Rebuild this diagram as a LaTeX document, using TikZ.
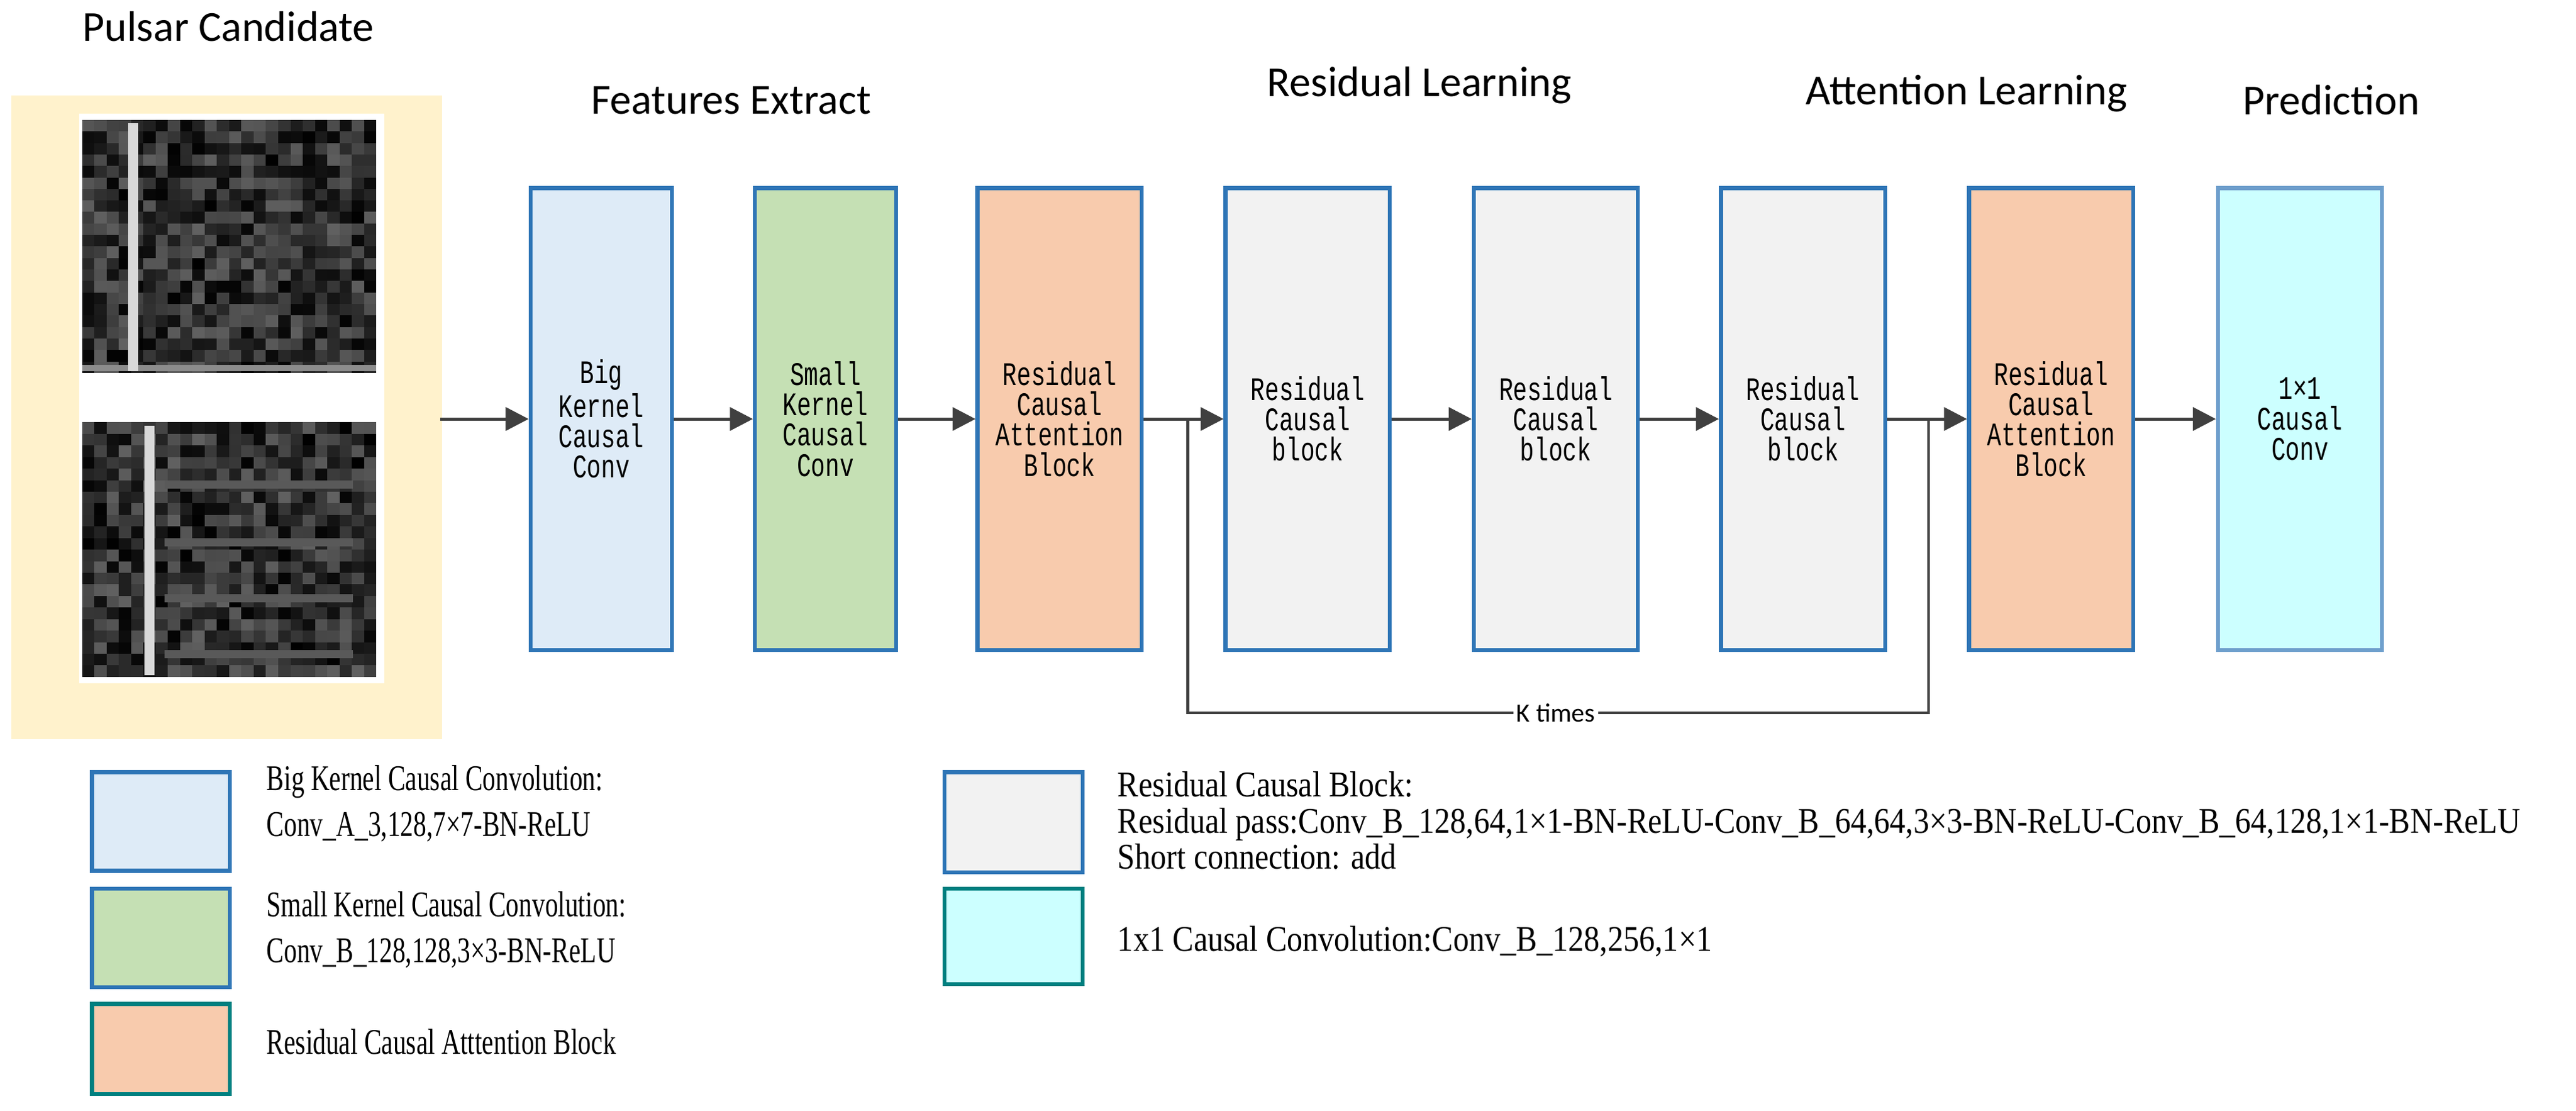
\documentclass[tikz,border=0pt]{standalone}
\usepackage{fontspec}
\usetikzlibrary{arrows.meta}
\setmainfont{Liberation Serif}
\newfontfamily\ttl{Carlito}
\newfontfamily\boxf{Liberation Mono}[FakeStretch=0.72]
\newfontfamily\legf{Liberation Serif}[FakeStretch=0.72]
\newfontfamily\legw{Liberation Serif}[FakeStretch=0.87]
\definecolor{bord}{HTML}{2E75B6}
\definecolor{teal}{HTML}{008080}
\definecolor{cbl}{HTML}{DEEBF7}
\definecolor{cgr}{HTML}{C5E0B4}
\definecolor{cor}{HTML}{F8CBAD}
\definecolor{cgy}{HTML}{F2F2F2}
\definecolor{ccy}{HTML}{CCFFFF}
\definecolor{cyl}{HTML}{FFF2CC}
\definecolor{arr}{HTML}{404040}
\begin{document}
\begin{tikzpicture}[x=0.5pt,y=-0.5pt,
  blk/.style={draw=bord,line width=1.2pt,minimum width=50pt,minimum height=140.5pt,inner sep=0pt,align=center,font=\boxf\fontsize{10}{9.2}\selectfont},
  leg/.style={draw=bord,line width=1.2pt,minimum width=42pt,inner sep=0pt},
  ltxt/.style={anchor=west,align=left,font=\legf\fontsize{11}{11}\selectfont,inner sep=0pt},
  title/.style={font=\ttl\fontsize{13}{14}\selectfont,inner sep=0pt},
  con/.style={draw=arr,line width=1pt},
  ar/.style={con,-{Triangle[length=7pt,width=7pt]}}]
\useasboundingbox (0,0) rectangle (1568,676);
% pulsar candidate panel
\fill[cyl] (7,58) rectangle (269,450);
\fill[white] (48,69) rectangle (234,416);
\pgfmathsetseed{7}
\foreach \yy/\yb in {73/227,257/412}{
  \fill[black!85] (50,\yy) rectangle (229,\yb);
  \foreach \i in {0,...,23}{
    \foreach \j in {0,...,21}{
      \pgfmathsetmacro\g{rnd*38}
      \pgfmathsetmacro\xa{50+\i*179/24}
      \pgfmathsetmacro\ya{\yy+\j*(\yb-\yy)/22}
      \fill[white!\g!black] (\xa,\ya) rectangle ++(179/24,{(\yb-\yy)/22});
    }
  }
}
\fill[white!55!black] (50,222) rectangle (229,226);
\fill[white!85!black] (78,75) rectangle (84,226);
\foreach \hy in {295,330,364,398}{\fill[white!35!black] (100,\hy-2.5) rectangle (215,\hy+2.5);}
\fill[white!85!black] (88,259) rectangle (94,411);
\node[title] (pc) at (139,16) {Pulsar Candidate};
\coordinate (src) at (268,255);
% titles
\node[title] (t1) at (445,61) {Features Extract};
\node[title] (t2) at (864,52) {Residual Learning};
\node[title] (t3) at (1197,57) {Attention Learning};
\node[title] (t4) at (1419,61) {Prediction};
% blocks
\node[blk,fill=cbl,minimum width=43pt] (big) at (366,255) {Big\\Kernel\\Causal\\Conv};
\node[blk,fill=cgr,minimum width=43pt] (small) at (502.5,255) {Small\\Kernel\\Causal\\Conv};
\node[blk,fill=cor] (ra1) at (645,255) {Residual\\Causal\\Attention\\Block};
\node[blk,fill=cgy] (rb1) at (796,255) {Residual\\Causal\\block};
\node[blk,fill=cgy] (rb2) at (947,255) {Residual\\Causal\\block};
\node[blk,fill=cgy] (rb3) at (1097.5,255) {Residual\\Causal\\block};
\node[blk,fill=cor] (ra2) at (1248.5,255) {Residual\\Causal\\Attention\\Block};
\node[blk,fill=ccy,draw=bord!70] (cv) at (1400,255) {1×1\\Causal\\Conv};
% connectors
\draw[ar] (src) -- (big);
\draw[ar] (big) -- (small);
\draw[ar] (small) -- (ra1);
\coordinate (b1) at (723,255);
\coordinate (b2) at (1174,255);
\draw[con] (ra1) -- (b1);
\draw[ar] (b1) -- (rb1);
\draw[ar] (rb1) -- (rb2);
\draw[ar] (rb2) -- (rb3);
\draw[con] (rb3) -- (b2);
\draw[ar] (b2) -- (ra2);
\draw[ar] (ra2) -- (cv);
\coordinate (k1) at (723,434);
\coordinate (k2) at (1174,434);
\draw[con,line width=0.8pt] (b1) -- (k1) -- (k2) -- (b2);
\node[fill=white,inner sep=1pt,font=\ttl\fontsize{8}{8}\selectfont] (kt) at (947,434) {K times};
% legend
\node[leg,fill=cbl,minimum height=30pt] (l1) at (98,500) {};
\node[leg,fill=cgr,minimum height=30pt] (l2) at (98,571) {};
\node[leg,fill=cor,draw=teal,minimum height=27.5pt] (l3) at (98,638.5) {};
\node[leg,fill=cgy,minimum height=30.5pt] (l4) at (617,500.5) {};
\node[leg,fill=ccy,draw=teal,minimum height=29pt] (l5) at (617,570) {};
\node[ltxt] (lt1) at (162,489) {Big Kernel Causal Convolution:\\[3pt]Conv\_A\_3,128,7×7-BN-ReLU};
\node[ltxt] (lt2) at (162,566) {Small Kernel Causal Convolution:\\[3pt]Conv\_B\_128,128,3×3-BN-ReLU};
\node[ltxt] (lt3) at (162,634) {Residual Causal  Atttention Block};
\node[ltxt,font=\legw\fontsize{11}{11}\selectfont] (lt4) at (680,499.5) {Residual  Causal Block:\\[0pt]Residual pass:Conv\_B\_128,64,1×1-BN-ReLU-Conv\_B\_64,64,3×3-BN-ReLU-Conv\_B\_64,128,1×1-BN-ReLU\\[0pt]Short connection: add};
\node[ltxt,font=\legw\fontsize{11}{11}\selectfont] (lt5) at (680,573) {1x1  Causal Convolution:Conv\_B\_128,256,1×1};
\end{tikzpicture}
\end{document}
